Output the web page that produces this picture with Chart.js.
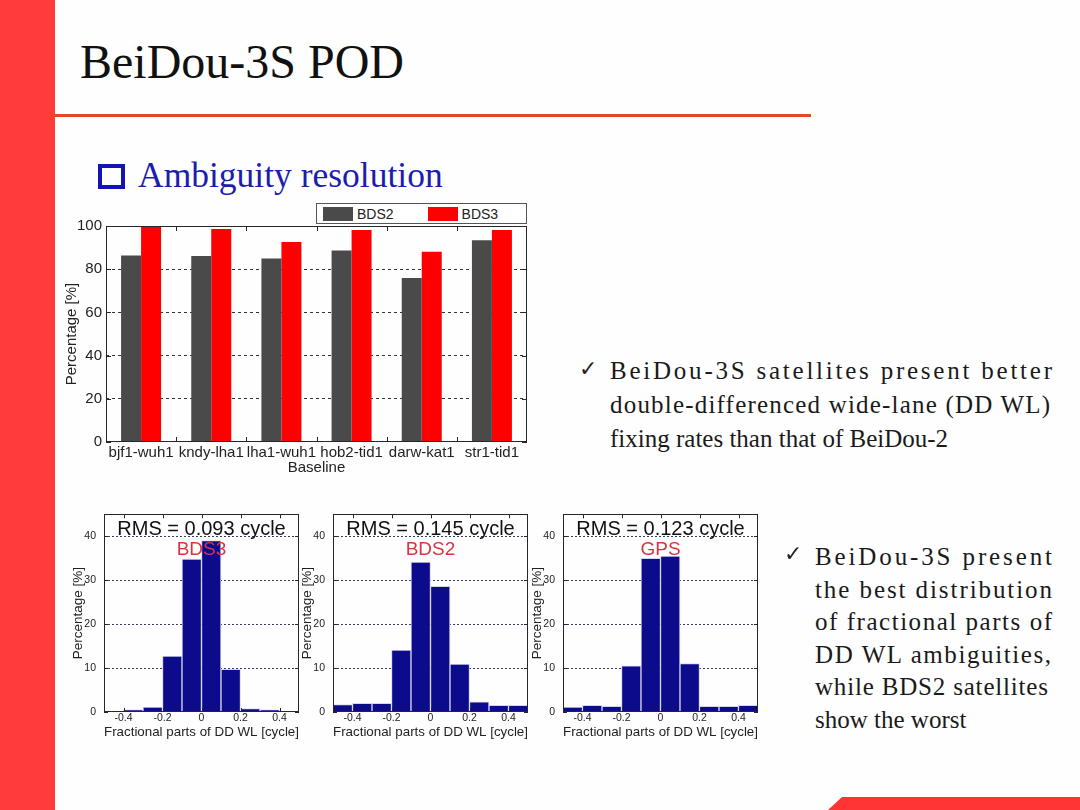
<!DOCTYPE html>
<html>
<head>
<meta charset="utf-8">
<title>BeiDou-3S POD</title>
<script src="https://cdn.jsdelivr.net/npm/chart.js@4.4.0/dist/chart.umd.min.js"></script>
<style>
  body { margin: 0; background: #fff; }
  #slide { position: relative; width: 1080px; height: 810px; overflow: hidden; background: #fefefe;
           font-family: "Liberation Serif", "Times New Roman", serif; color: #111; }
  .abs { position: absolute; }
  #sideBar { left: 0; top: 0; width: 55px; height: 810px; background: #ff3b3b; }
  #rule { left: 55px; top: 114px; width: 756px; height: 3px; background: #e5472a; }
  #cornerBar { left: 828px; top: 797px; width: 252px; height: 13px; background: #ff3535;
               clip-path: polygon(14px 0, 100% 0, 100% 100%, 0 100%); }
  #title { left: 80px; top: 38px; font-size: 48px; line-height: 48px; white-space: nowrap; }
  #subBox { left: 98px; top: 164px; width: 19px; height: 17px; border: 4px solid #1414b4; }
  #subTitle { left: 138px; top: 158px; font-size: 35.5px; line-height: 35px; color: #1c1cae; white-space: nowrap; }
  .bullet { font-size: 25px; color: #1a1a1a; }
  .bullet .line { white-space: nowrap; }
  .bullet .line span { display: inline-block; }
  .check { font-family: "DejaVu Sans", sans-serif; font-size: 22px; color: #222; }
  #legend { left: 316px; top: 203px; width: 203px; height: 19px; border: 1px solid #555; background: #fff;
            font-family: "Liberation Sans", Arial, sans-serif; font-size: 14px; color: #222;
            display: flex; align-items: center; padding-left: 6px; box-sizing: content-box; }
  #legend .item { display: flex; align-items: center; margin-right: 34px; }
  #legend .swatch { width: 30px; height: 14px; margin-right: 4px; }
  canvas { position: absolute; }
</style>
</head>
<body>
<div id="slide">
  <div class="abs" id="sideBar"></div>
  <div class="abs" id="rule"></div>
  <div class="abs" id="cornerBar"></div>
  <div class="abs" id="title">BeiDou-3S POD</div>
  <div class="abs" id="subBox"></div>
  <div class="abs" id="subTitle">Ambiguity resolution</div>

  <canvas id="rateChart" width="480" height="270" style="left:58px; top:212px;"></canvas>
  <div class="abs" id="legend"></div>

  <canvas id="histBds3" width="245" height="248" style="left:62px; top:500px;"></canvas>
  <canvas id="histBds2" width="245" height="248" style="left:291px; top:500px;"></canvas>
  <canvas id="histGps" width="245" height="248" style="left:521px; top:500px;"></canvas>

  <div class="abs check" style="left:579px; top:356px;">✓</div>
  <div class="abs bullet" style="left:610px; top:354px; width:442px; line-height:34px;">
    <div class="line"><span class="fit" data-w="442">BeiDou-3S satellites present better</span></div>
    <div class="line"><span class="fit" data-w="440">double-differenced wide-lane (DD WL)</span></div>
    <div class="line"><span>fixing rates than that of BeiDou-2</span></div>
  </div>

  <div class="abs check" style="left:784px; top:541px;">✓</div>
  <div class="abs bullet" style="left:815px; top:541px; width:237px; line-height:32.5px;">
    <div class="line"><span class="fit" data-w="237">BeiDou-3S present</span></div>
    <div class="line"><span class="fit" data-w="237">the best distribution</span></div>
    <div class="line"><span class="fit" data-w="237">of fractional parts of</span></div>
    <div class="line"><span class="fit" data-w="236">DD WL ambiguities,</span></div>
    <div class="line"><span class="fit" data-w="233">while BDS2 satellites</span></div>
    <div class="line"><span>show the worst</span></div>
  </div>
</div>

<script>
// DD WL fixing rate per baseline
const baselines = ['bjf1-wuh1', 'kndy-lha1', 'lha1-wuh1', 'hob2-tid1', 'darw-kat1', 'str1-tid1'];
const bds2Rate = [86.4, 86.1, 85.0, 88.7, 75.9, 93.4];
const bds3Rate = [100, 98.6, 92.6, 98.1, 88.1, 98.1];
const rateTicks = [0, 20, 40, 60, 80, 100];
const seriesNames = ['BDS2', 'BDS3'];
const seriesColors = ['#4a4a4a', '#ff0000'];

// fractional parts histograms (bin centres in cycles, values in %)
const binCenters = [-0.45, -0.35, -0.25, -0.15, -0.05, 0.05, 0.15, 0.25, 0.35, 0.45];
const bds3Hist = [0.15, 0.5, 1.1, 12.7, 34.8, 39.0, 9.7, 0.8, 0.5, 0.1];
const bds2Hist = [1.7, 2.0, 2.0, 14.1, 34.1, 28.6, 10.9, 2.3, 1.5, 1.5];
const gpsHist = [1.1, 1.5, 1.3, 10.5, 35.0, 35.5, 11.0, 1.3, 1.3, 1.5];
const histTicksX = [-0.4, -0.2, 0, 0.2, 0.4];
const histTicksY = [0, 10, 20, 30, 40];
const rmsLabels = ['RMS = 0.093 cycle', 'RMS = 0.145 cycle', 'RMS = 0.123 cycle'];
const systemNames = ['BDS3', 'BDS2', 'GPS'];

const sansFont = '"Liberation Sans", Arial, sans-serif';

// stretch the bullet lines by letter spacing, like the slide does
document.querySelectorAll('.fit').forEach(el => {
    const target = parseFloat(el.dataset.w);
    const natural = el.getBoundingClientRect().width;
    const n = el.textContent.length;
    el.style.letterSpacing = ((target - natural) / (n - 1)) + 'px';
});

// Matlab style box with inward tick marks
const matlabBox = {
    id: 'matlabBox',
    afterDatasetsDraw(chart, args, opts) {
        const ctx = chart.ctx;
        const a = chart.chartArea;
        const len = opts.tickLen || 4;
        const xs = chart.scales.x;
        const ys = chart.scales.y;
        let xMarks;
        if (opts.between) {
            xMarks = [];
            for (let i = 1; i < xs.ticks.length; i++) {
                xMarks.push((xs.getPixelForTick(i - 1) + xs.getPixelForTick(i)) / 2);
            }
        } else {
            xMarks = xs.ticks.map(t => xs.getPixelForValue(t.value));
        }
        ctx.save();
        ctx.strokeStyle = '#262626';
        ctx.lineWidth = 1;
        ctx.beginPath();
        ys.ticks.forEach(t => {
            const py = Math.round(ys.getPixelForValue(t.value)) + 0.5;
            ctx.moveTo(a.left, py); ctx.lineTo(a.left + len, py);
            ctx.moveTo(a.right, py); ctx.lineTo(a.right - len, py);
        });
        xMarks.forEach(p => {
            const px = Math.round(p) + 0.5;
            ctx.moveTo(px, a.bottom); ctx.lineTo(px, a.bottom - len);
            ctx.moveTo(px, a.top); ctx.lineTo(px, a.top + len);
        });
        ctx.stroke();
        ctx.strokeRect(Math.round(a.left) + 0.5, Math.round(a.top) + 0.5,
                       Math.round(a.width) - 1, Math.round(a.height) - 1);
        ctx.restore();
    }
};

// RMS text and system name on top of the histogram
const histLabel = {
    id: 'histLabel',
    afterDatasetsDraw(chart, args, opts) {
        const ctx = chart.ctx;
        const a = chart.chartArea;
        const cx = (a.left + a.right) / 2;
        ctx.save();
        ctx.textAlign = 'center';
        ctx.textBaseline = 'middle';
        ctx.font = '20px ' + sansFont;
        ctx.fillStyle = '#111';
        ctx.fillText(opts.rms, cx, a.top + 15);
        ctx.font = '19px ' + sansFont;
        ctx.fillStyle = '#dd3340';
        ctx.fillText(opts.name, cx, a.top + 35);
        ctx.restore();
    }
};

function drawRateChart() {
    const chart = new Chart(document.getElementById('rateChart'), {
        type: 'bar',
        data: {
            labels: baselines,
            datasets: [
                { label: seriesNames[0], data: bds2Rate, backgroundColor: seriesColors[0] },
                { label: seriesNames[1], data: bds3Rate, backgroundColor: seriesColors[1] }
            ]
        },
        options: {
            responsive: false,
            animation: false,
            categoryPercentage: 0.57,
            barPercentage: 1.0,
            layout: { padding: { top: 14, right: 11, left: 0, bottom: 0 } },
            plugins: {
                legend: { display: false },
                tooltip: { enabled: false },
                matlabBox: { tickLen: 5, between: true }
            },
            scales: {
                x: {
                    grid: { display: false, drawTicks: false },
                    border: { display: false },
                    ticks: { autoSkip: false, maxRotation: 0, padding: 2, color: '#222',
                             font: { family: sansFont, size: 15 } },
                    title: { display: true, text: 'Baseline', color: '#222', padding: { top: 0, bottom: 5 },
                             font: { family: sansFont, size: 15 } },
                    afterFit: s => { s.height = 40; }
                },
                y: {
                    min: 0,
                    max: 100,
                    afterBuildTicks: s => { s.ticks = rateTicks.map(v => ({ value: v })); },
                    grid: {
                        drawTicks: false,
                        color: c => (c.tick && (c.tick.value === 0 || c.tick.value === 100)) ? 'rgba(0,0,0,0)' : '#333'
                    },
                    border: { display: false, dash: [3, 3] },
                    ticks: { padding: 4, color: '#222', font: { family: sansFont, size: 15 } },
                    title: { display: true, text: 'Percentage [%]', color: '#222', padding: { top: 5, bottom: 0 },
                             font: { family: sansFont, size: 15 } },
                    afterFit: s => { s.width = 48; }
                }
            }
        },
        plugins: [matlabBox]
    });

    // legend box above the plot, built from the datasets
    const legend = document.getElementById('legend');
    chart.data.datasets.forEach(ds => {
        const item = document.createElement('div');
        item.className = 'item';
        item.innerHTML = '<div class="swatch" style="background:' + ds.backgroundColor + '"></div>' + ds.label;
        legend.appendChild(item);
    });
}

function drawHistogram(canvasId, values, rmsText, name) {
    new Chart(document.getElementById(canvasId), {
        type: 'bar',
        data: {
            datasets: [{
                data: binCenters.map((c, i) => ({ x: c, y: values[i] })),
                backgroundColor: '#0b0b8c',
                borderColor: '#d6d6ea',
                borderWidth: 1,
                borderSkipped: 'bottom',
                barPercentage: 1,
                categoryPercentage: 1
            }]
        },
        options: {
            responsive: false,
            animation: false,
            layout: { padding: { top: 13, right: 8, left: 0, bottom: 0 } },
            plugins: {
                legend: { display: false },
                tooltip: { enabled: false },
                matlabBox: { tickLen: 4 },
                histLabel: { rms: rmsText, name: name }
            },
            scales: {
                x: {
                    type: 'linear',
                    min: -0.5,
                    max: 0.5,
                    offset: false,
                    afterBuildTicks: s => { s.ticks = histTicksX.map(v => ({ value: v })); },
                    grid: { display: false, drawTicks: false },
                    border: { display: false },
                    ticks: { padding: 0, color: '#222', font: { family: sansFont, size: 10.5 },
                             callback: v => String(Math.round(v * 10) / 10) },
                    title: { display: true, text: 'Fractional parts of DD WL [cycle]', color: '#222',
                             padding: { top: 0, bottom: 8 }, font: { family: sansFont, size: 13.5 } },
                    afterFit: s => { s.height = 36; }
                },
                y: {
                    min: 0,
                    max: 45,
                    afterBuildTicks: s => { s.ticks = histTicksY.map(v => ({ value: v })); },
                    grid: {
                        drawTicks: false,
                        color: c => (c.tick && c.tick.value === 0) ? 'rgba(0,0,0,0)' : '#3a3a5a'
                    },
                    border: { display: false, dash: [2, 2] },
                    ticks: { padding: 8, color: '#222', font: { family: sansFont, size: 10.5 } },
                    title: { display: true, text: 'Percentage [%]', color: '#222',
                             padding: { top: 8, bottom: 0 }, font: { family: sansFont, size: 13.5 } },
                    afterFit: s => { s.width = 42; }
                }
            }
        },
        plugins: [matlabBox, histLabel]
    });
}

drawRateChart();
drawHistogram('histBds3', bds3Hist, rmsLabels[0], systemNames[0]);
drawHistogram('histBds2', bds2Hist, rmsLabels[1], systemNames[1]);
drawHistogram('histGps', gpsHist, rmsLabels[2], systemNames[2]);
</script>
</body>
</html>
